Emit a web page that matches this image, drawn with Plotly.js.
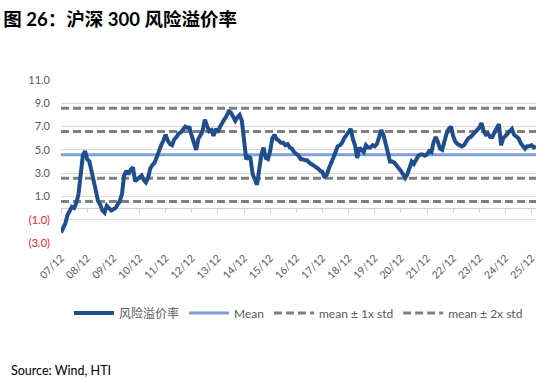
<!DOCTYPE html>
<html>
<head>
<meta charset="utf-8">
<script src="https://cdn.plot.ly/plotly-3.0.1.min.js"></script>
<style>html,body{margin:0;padding:0;background:#fff;}#chart{width:550px;height:383px;}</style>
</head>
<body>
<div id="chart"></div>
<script>
// Monthly dates from 2007-12 to 2026-02
const startYear = 2007, startMonth = 12;
const premium = [
 -2.1,-1.7,-1.3,-0.6,-0.2,0.1,0.0,0.4,1.2,3.2,4.5,4.9,
 4.2,4.0,3.0,2.1,1.5,0.6,0.3,-0.2,-0.4,0.2,0.0,-0.2,
 -0.1,0.0,0.3,0.6,1.2,2.8,3.2,2.9,3.3,3.5,2.3,2.5,
 2.6,2.8,2.4,2.2,2.6,3.4,3.7,3.9,4.4,5.0,5.4,5.8,
 6.3,5.8,5.5,5.4,5.9,6.1,6.4,6.5,6.8,7.0,6.9,6.9,
 6.2,5.6,5.0,5.9,6.3,6.6,7.6,7.2,6.6,6.7,6.2,6.8,
 6.5,7.0,7.4,7.6,7.9,8.3,8.2,7.8,7.5,7.8,8.0,7.5,
 6.0,4.2,4.4,4.3,2.9,2.4,2.0,3.3,4.6,5.2,4.3,4.2,
 4.9,6.0,6.3,5.9,5.8,5.6,5.6,5.4,5.5,5.2,5.1,4.8,
 4.7,4.5,4.2,4.2,4.1,4.1,3.9,3.8,3.6,3.5,3.4,3.2,
 3.1,2.6,2.9,3.4,3.8,4.3,4.8,5.3,5.4,5.6,6.0,6.3,
 6.5,6.8,5.9,5.4,4.3,5.2,5.0,4.8,5.4,5.2,5.2,5.4,
 5.3,5.5,6.1,6.7,6.3,5.4,4.8,4.0,4.0,3.9,3.7,3.5,
 3.2,2.9,2.6,2.9,3.4,4.0,3.8,4.1,4.5,4.6,4.6,4.5,
 4.6,4.9,4.8,5.6,6.1,5.7,5.1,5.0,5.8,6.4,6.8,7.0,
 6.2,5.7,5.5,5.4,5.3,5.4,5.8,6.0,6.1,6.3,6.5,6.7,
 6.9,7.3,6.6,6.3,6.4,6.1,6.1,6.5,6.8,7.2,5.4,6.0,
 6.2,6.4,6.6,6.8,6.3,6.1,6.0,5.6,5.3,5.1,5.3,5.3,
 5.4,5.2,5.3
];
const dates = premium.map((_, i) => {
  const m0 = startMonth - 1 + i;
  const y = startYear + Math.floor(m0 / 12);
  const m = (m0 % 12) + 1;
  return y + '-' + String(m).padStart(2, '0') + '-01';
});
const meanValue = [4.57];
const std1Values = [6.57, 2.57];
const std2Values = [8.57, 0.57];
const yTickVals = [-3, -1, 1, 3, 5, 7, 9, 11];
const yTickText = ['<span style="color:#e8202a">(3.0)</span>', '<span style="color:#e8202a">(1.0)</span>', '1.0', '3.0', '5.0', '7.0', '9.0', '11.0'];
const seriesNames = ['风险溢价率', 'Mean', 'mean ± 1x std', 'mean ± 2x std'];

const xStart = dates[0], xEnd = dates[dates.length - 1];
const fontLatin = 'Lato, "Noto Sans CJK SC", sans-serif';

const traces = [
  {x: [xStart, xEnd, null, xStart, xEnd], y: [std2Values[0], std2Values[0], null, std2Values[1], std2Values[1]],
   mode: 'lines', name: seriesNames[3], line: {color: '#808080', width: 3, dash: '8px,4px'}, connectgaps: false, legendrank: 4},
  {x: [xStart, xEnd, null, xStart, xEnd], y: [std1Values[0], std1Values[0], null, std1Values[1], std1Values[1]],
   mode: 'lines', name: seriesNames[2], line: {color: '#808080', width: 3, dash: '8px,4px'}, connectgaps: false, legendrank: 3},
  {x: [xStart, xEnd], y: [meanValue[0], meanValue[0]], mode: 'lines', name: seriesNames[1],
   line: {color: '#7f9fd6', width: 3}, legendrank: 2},
  {x: dates, y: premium, mode: 'lines', name: seriesNames[0],
   line: {color: '#1f4e8c', width: 4}, legendrank: 1},
  {x: [xStart, xEnd], y: [0, 0], xaxis: 'x2', mode: 'lines', showlegend: false, hoverinfo: 'skip',
   line: {color: 'rgba(0,0,0,0)', width: 0}}
];

const layout = {
  width: 550, height: 383,
  margin: {l: 61, r: 14, t: 80, b: 140},
  paper_bgcolor: '#ffffff', plot_bgcolor: '#ffffff',
  font: {family: fontLatin, color: '#595959', size: 11},
  title: {text: '<b>图 26：沪深 300 风险溢价率</b>', x: 0.006, xanchor: 'left', y: 0.965, yanchor: 'top',
          xref: 'container', yref: 'container', font: {family: fontLatin, size: 18.5, color: '#000000'}},
  xaxis: {type: 'date', range: ['2007-12-01', '2026-02-01'], tick0: '2007-12-01', dtick: 'M12',
          tickformat: '%y/%m', tickangle: -45, showgrid: false, zeroline: false, showline: false,
          ticks: '', ticklabelstandoff: 6, tickfont: {size: 10.5, color: '#595959'}},
  xaxis2: {type: 'date', overlaying: 'x', anchor: 'free', position: 3 / 14, side: 'bottom', layer: 'below traces',
           range: ['2007-12-01', '2026-02-01'], tick0: '2007-12-01', dtick: 'M12',
           showgrid: false, zeroline: false, showline: true, linecolor: '#d0d0d0', linewidth: 1,
           ticks: 'outside', ticklen: 4, tickcolor: '#d0d0d0', tickwidth: 1, showticklabels: false},
  yaxis: {range: [-3, 11], tickvals: yTickVals, ticktext: yTickText, showgrid: true, gridcolor: '#d9d9d9',
          gridwidth: 1, zeroline: false, showline: false, ticks: '', ticklabelstandoff: 10,
          tickfont: {size: 11, color: '#595959'}},
  showlegend: true,
  legend: {orientation: 'h', x: 0.5, xanchor: 'center', y: -0.43, yanchor: 'middle',
           font: {size: 12, color: '#595959'}, traceorder: 'normal', itemwidth: 40},
  annotations: [{text: 'Source: Wind, HTI', xref: 'paper', yref: 'paper', x: -0.11, y: -0.785,
                 xanchor: 'left', yanchor: 'middle', showarrow: false,
                 font: {size: 12.5, color: '#000000', family: fontLatin}}]
};

Plotly.newPlot('chart', traces, layout, {displayModeBar: false, staticPlot: true});
</script>
</body>
</html>
